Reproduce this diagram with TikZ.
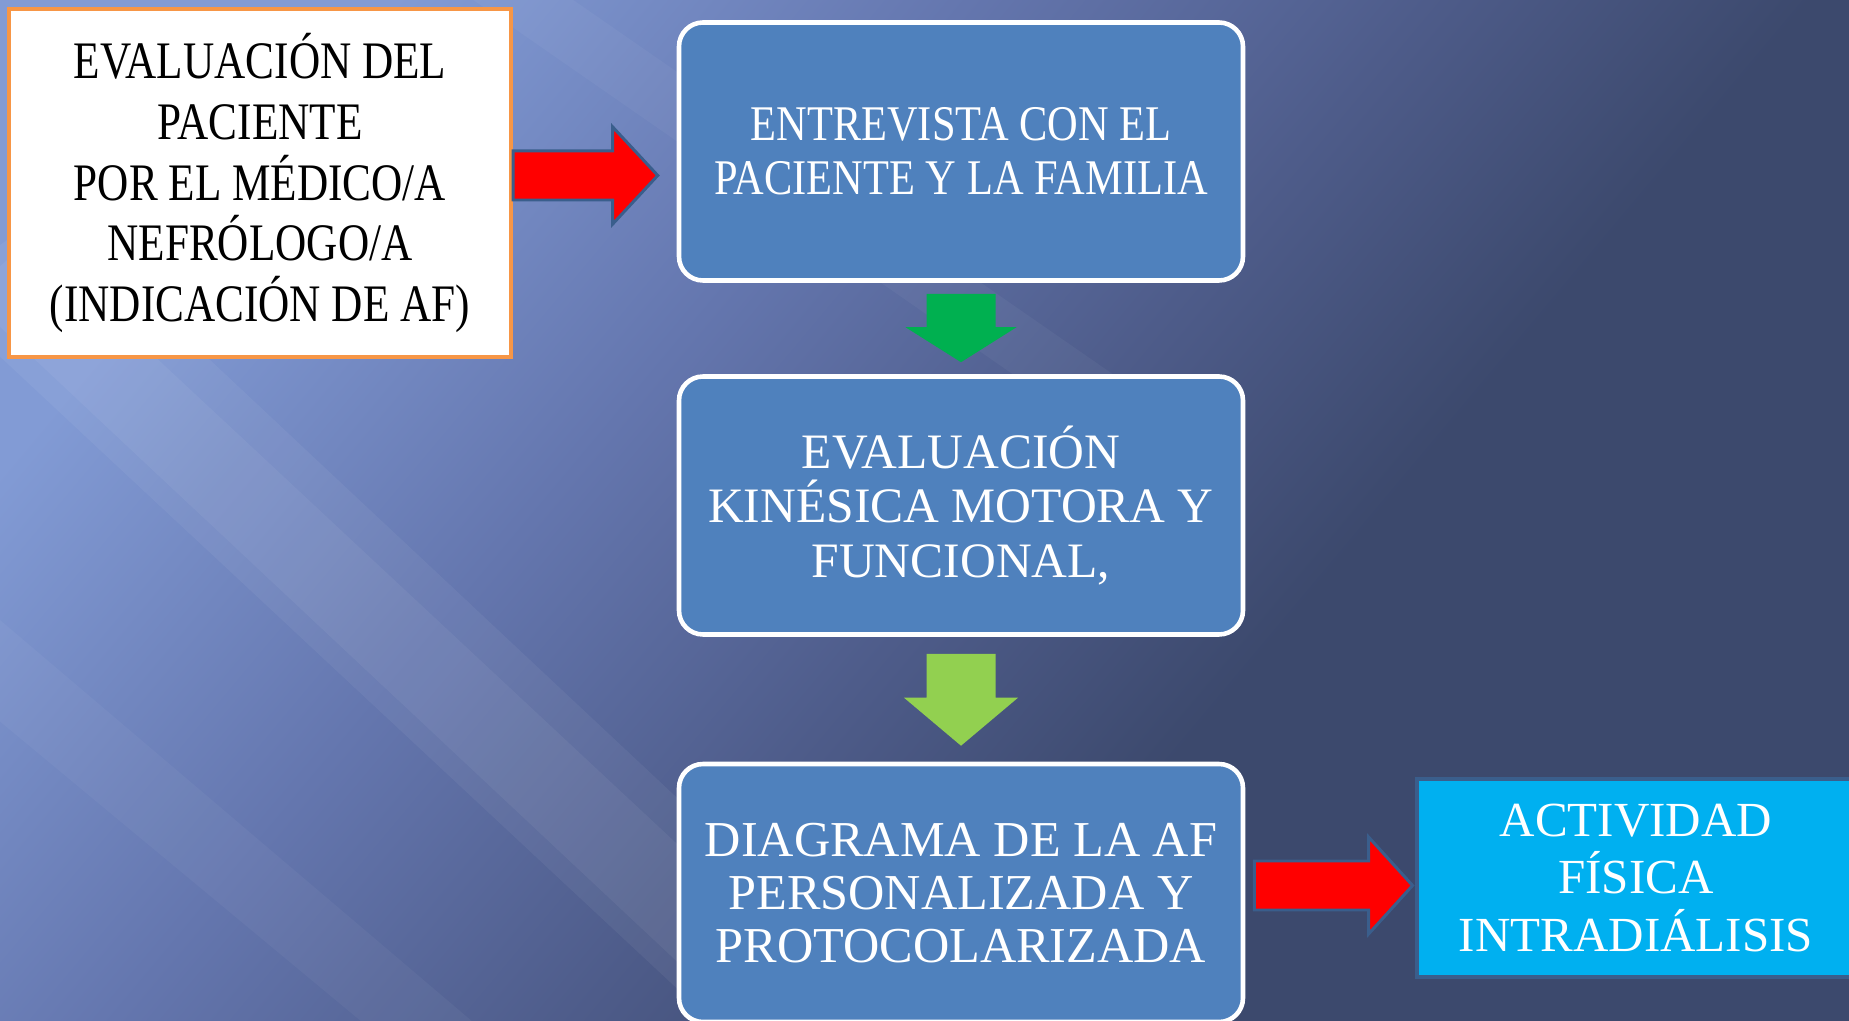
\documentclass[tikz,border=0pt]{standalone}
\usepackage{fontspec}
\setmainfont{Liberation Serif}
\newfontfamily\narrowserif[FakeStretch=0.85]{Liberation Serif}
\newfontfamily\narrowserifA[FakeStretch=0.82]{Liberation Serif}
\usetikzlibrary{calc}

\definecolor{bgLight}{HTML}{829BD5}
\definecolor{bgMid}{HTML}{6476AE}
\definecolor{bgCentre}{HTML}{4E5C8A}
\definecolor{bgDark}{HTML}{3C496D}
\definecolor{boxorange}{HTML}{F79646}
\definecolor{boxblue}{HTML}{4F81BD}
\definecolor{arrowblue}{HTML}{3A5E8C}
\definecolor{goalcyan}{HTML}{00B0F0}
\definecolor{greenA}{HTML}{00B050}
\definecolor{greenB}{HTML}{92D050}

\pgfdeclarehorizontalshading{slide}{100bp}{color(0bp)=(bgLight); color(25bp)=(bgLight);
    color(40bp)=(bgMid); color(52bp)=(bgCentre); color(62bp)=(bgDark); color(100bp)=(bgDark)}

\begin{document}
\begin{tikzpicture}[
    % block arrows drawn between two nodes
    hblock/.style n args={3}{to path={let \p1=(\tikztostart), \p2=(\tikztotarget) in
        (\x1,\y1-#1) -- (\x2-#3,\y1-#1) -- (\x2-#3,\y1-#2) -- (\x2,\y1)
        -- (\x2-#3,\y1+#2) -- (\x2-#3,\y1+#1) -- (\x1,\y1+#1) -- cycle}},
    vblock/.style n args={3}{to path={let \p1=(\tikztostart), \p2=(\tikztotarget) in
        (\x1-#1,\y1) -- (\x1-#1,\y2+#3) -- (\x1-#2,\y2+#3) -- (\x1,\y2)
        -- (\x1+#2,\y2+#3) -- (\x1+#1,\y2+#3) -- (\x1+#1,\y1) -- cycle}},
    redarrow/.style={fill=red, draw=arrowblue, line width=1.7pt},
    streak/.style={white, opacity=#1},
    patient/.style={draw=boxorange, line width=2.5pt, fill=white, inner sep=0pt,
        minimum width=10.04cm, minimum height=6.96cm, align=center,
        font=\narrowserifA\fontsize{30}{34.7}\selectfont},
    stepbox/.style={draw=white, line width=2.6pt, fill=boxblue, rounded corners=0.48cm,
        inner sep=0pt, minimum width=11.28cm, minimum height=5.16cm, align=center, text=white},
    goal/.style={draw=arrowblue, line width=2.8pt, fill=goalcyan, inner sep=0pt,
        minimum width=8.76cm, minimum height=3.96cm, align=center, text=white,
        font=\fontsize{27.9}{33}\selectfont}
]
    \useasboundingbox (0,0) rectangle (36.98,20.4);
    \clip (0,0) rectangle (36.98,20.4);

    % Background
    \shade[shading=slide, shading angle=-40] (0,0) rectangle (36.98,20.4);
    \fill[streak=0.05] (-1,14.8) -- (1,16.2) -- (17,1.2) -- (15,-0.2) -- cycle;
    \fill[streak=0.05] (-1,14.2) -- (0.6,15.6) -- (15.6,1.6) -- (14,0.2) -- cycle;
    \fill[streak=0.04] (-1,6.8) -- (0,8) -- (10,-0.5) -- (9,-1.5) -- cycle;
    \fill[streak=0.04] (8.6,21) -- (10.6,21) -- (23,12.4) -- (21,12.4) -- cycle;

    % Boxes
    \node[patient] (Medico) at (5.2,16.74)
        {EVALUACIÓN DEL\\PACIENTE\\POR EL MÉDICO/A\\NEFRÓLOGO/A\\(INDICACIÓN DE AF)};
    \node[stepbox, font=\narrowserif\fontsize{28.4}{30.5}\selectfont] (Entrevista) at (19.22,17.37)
        {ENTREVISTA CON EL\\PACIENTE Y LA FAMILIA};
    \node[stepbox, font=\fontsize{28.2}{31}\selectfont] (Kinesica) at (19.22,10.29)
        {EVALUACIÓN\\KINÉSICA MOTORA Y\\FUNCIONAL,};
    \node[stepbox, font=\fontsize{28.6}{30}\selectfont] (Diagrama) at (19.22,2.54)
        {DIAGRAMA DE LA AF\\PERSONALIZADA Y\\PROTOCOLARIZADA};
    \node[goal] (Actividad) at (32.72,2.84)
        {ACTIVIDAD\\FÍSICA\\INTRADIÁLISIS};

    % Arrows
    \draw[hblock={0.49cm}{0.97cm}{0.9cm}, redarrow]
        ([yshift=0.15cm]Medico.east) to ([xshift=-0.38cm]Entrevista.west);
    \fill[vblock={0.69cm}{1.11cm}{0.7cm}, greenA]
        ([yshift=-0.22cm]Entrevista.south) to ([yshift=0.24cm]Kinesica.north);
    \fill[vblock={0.69cm}{1.14cm}{0.96cm}, greenB]
        ([yshift=-0.34cm]Kinesica.south) to ([yshift=0.32cm]Diagrama.north);
    \draw[hblock={0.49cm}{0.97cm}{0.88cm}, redarrow]
        ([xshift=0.18cm, yshift=0.15cm]Diagrama.east) to ([xshift=-0.04cm]Actividad.west);
\end{tikzpicture}
\end{document}
